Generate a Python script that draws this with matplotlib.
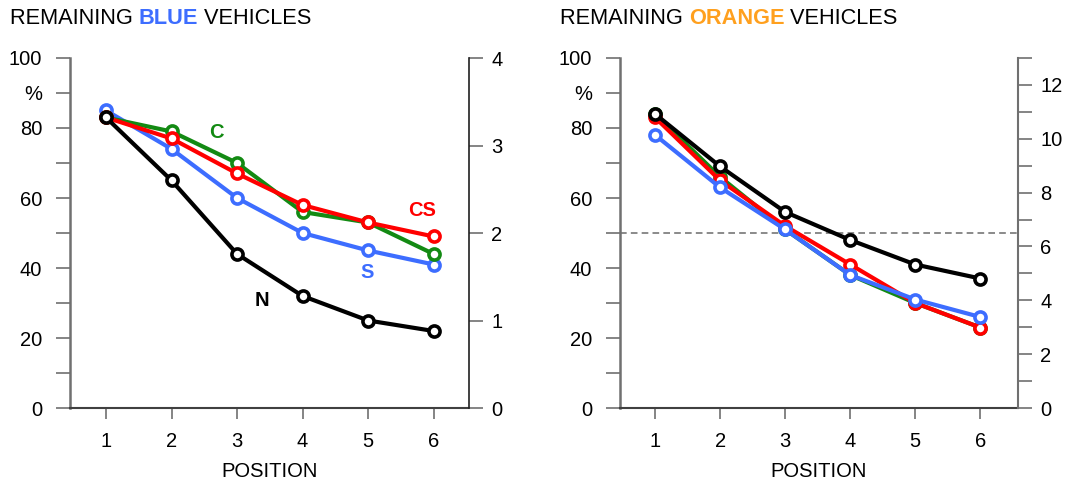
import matplotlib
matplotlib.use('Agg')
import matplotlib.pyplot as plt

plt.rcParams['font.family'] = ['Liberation Sans', 'DejaVu Sans']

positions = [1, 2, 3, 4, 5, 6]

# remaining blue vehicles (%)
blue_S = [85, 74, 60, 50, 45, 41]
blue_C = [83, 79, 70, 56, 53, 44]
blue_CS = [83, 77, 67, 58, 53, 49]
blue_N = [83, 65, 44, 32, 25, 22]

# remaining orange vehicles (%)
orange_S = [78, 63, 51, 38, 31, 26]
orange_C = [84, 66, 51, 38, 30, 23]
orange_CS = [83, 65, 52, 41, 30, 23]
orange_N = [84, 69, 56, 48, 41, 37]

c_blue = '#3d6dff'
c_green = '#138a13'
c_red = '#ff0000'
c_black = '#000000'
c_orange = '#ffa01e'
c_axis = '#707070'

fig = plt.figure(figsize=(10.74, 4.79), dpi=100)
ax1 = fig.add_axes([70/1074, 71/479, 399/1074, 350/479])
ax2 = fig.add_axes([620/1074, 71/479, 398/1074, 350/479])

def style_main(ax, xlim):
    ax.set_xlim(*xlim)
    ax.set_ylim(0, 100)
    ax.set_xticks(positions)
    ax.set_yticks(range(0, 101, 10))
    ax.set_yticklabels(['0', '', '20', '', '40', '', '60', '', '80', '%', '100'])
    ax.tick_params(axis='y', direction='out', length=10, width=1.2, color=c_axis,
                   labelsize=14.5, pad=10)
    ax.tick_params(axis='x', direction='out', length=8, width=1.2, color=c_axis,
                   labelsize=14.5, pad=9)
    ax.spines['top'].set_visible(False)
    ax.spines['right'].set_visible(False)
    ax.spines['left'].set_color(c_axis)
    ax.spines['left'].set_linewidth(1.8)
    ax.spines['bottom'].set_color('#404040')
    ax.spines['bottom'].set_linewidth(1.5)
    ax.set_xlabel('POSITION', fontsize=14.5, labelpad=8)

def plot_series(ax, y, color):
    ax.plot(positions, y, color=color, lw=3, marker='o', ms=8,
            mfc='white', mec=color, mew=2.6, clip_on=False, zorder=3)

style_main(ax1, (0.45, 6.54))
style_main(ax2, (0.46, 6.58))

plot_series(ax1, blue_S, c_blue)
plot_series(ax1, blue_C, c_green)
plot_series(ax1, blue_CS, c_red)
plot_series(ax1, blue_N, c_black)

ax1.text(2.69, 78.6, 'C', color=c_green, fontsize=14.5, fontweight='bold', ha='center', va='center')
ax1.text(5.82, 56.3, 'CS', color=c_red, fontsize=14.5, fontweight='bold', ha='center', va='center')
ax1.text(4.98, 38.6, 'S', color=c_blue, fontsize=14.5, fontweight='bold', ha='center', va='center')
ax1.text(3.38, 30.6, 'N', color=c_black, fontsize=14.5, fontweight='bold', ha='center', va='center')

ax2.axhline(50, color='#777777', lw=1.2, ls=(0, (4, 2.5)), zorder=1)
plot_series(ax2, orange_C, c_green)
plot_series(ax2, orange_CS, c_red)
plot_series(ax2, orange_S, c_blue)
plot_series(ax2, orange_N, c_black)

# secondary axes
t1 = ax1.twinx()
t1.set_ylim(0, 4)
t1.set_yticks([0, 1, 2, 3, 4])
t1.tick_params(axis='y', direction='out', length=10, width=1.2, color=c_axis,
               labelsize=14.5, pad=6)
for s in ['top', 'left', 'bottom']:
    t1.spines[s].set_visible(False)
t1.spines['right'].set_color('#202020')
t1.spines['right'].set_linewidth(1.2)

t2 = ax2.twinx()
t2.set_ylim(0, 13)
t2.set_yticks(range(0, 14))
t2.set_yticklabels([str(v) if v % 2 == 0 else '' for v in range(0, 14)])
t2.tick_params(axis='y', direction='out', length=10, width=1.2, color=c_axis,
               labelsize=14.5, pad=6)
for s in ['top', 'left', 'bottom']:
    t2.spines[s].set_visible(False)
t2.spines['right'].set_color(c_axis)
t2.spines['right'].set_linewidth(1.5)

# titles with a coloured word
renderer = fig.canvas.get_renderer()
def title(x, parts):
    xp = x
    for txt, color, weight in parts:
        t = fig.text(xp / 1074, 1 - 18 / 479, txt, color=color, fontsize=15.7,
                     fontweight=weight, va='center', ha='left')
        bb = t.get_window_extent(renderer=renderer)
        xp += bb.width

title(10, [('REMAINING ', 'black', 'normal'), ('BLUE', c_blue, 'bold'), (' VEHICLES', 'black', 'normal')])
title(560, [('REMAINING ', 'black', 'normal'), ('ORANGE', c_orange, 'bold'), (' VEHICLES', 'black', 'normal')])

fig.savefig('out.png', dpi=100)
